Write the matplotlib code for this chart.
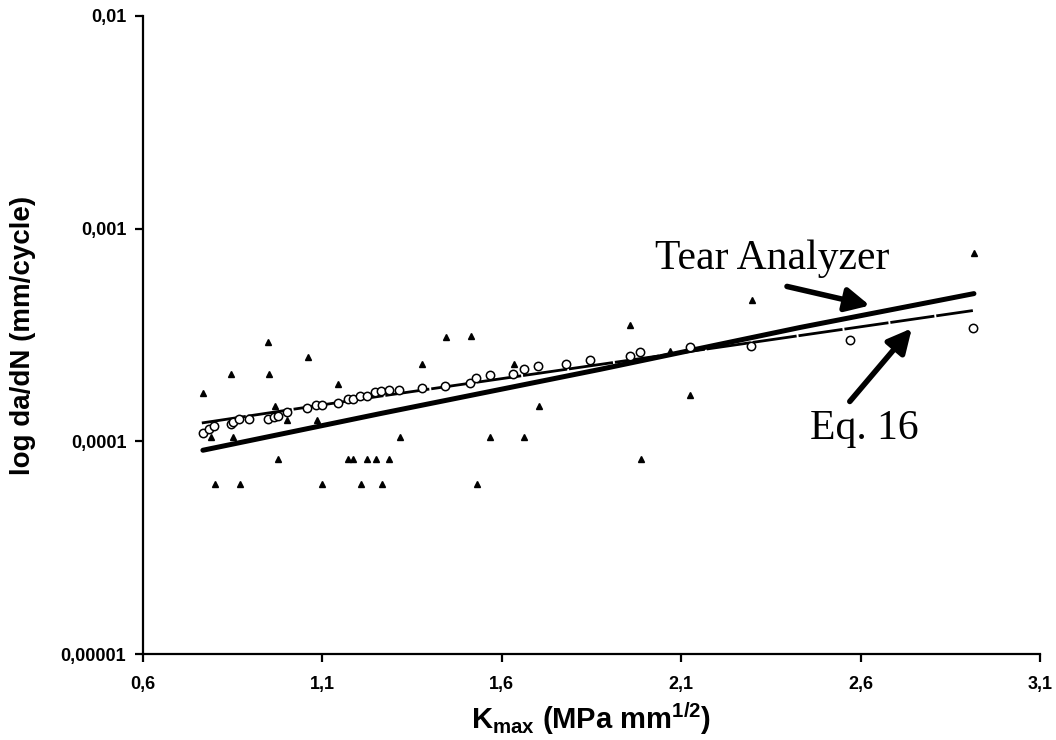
import matplotlib
matplotlib.use("Agg")
import matplotlib.pyplot as plt

plt.rcParams["mathtext.fontset"] = "custom"
plt.rcParams["mathtext.bf"] = "Liberation Sans:bold"
plt.rcParams["mathtext.rm"] = "Liberation Sans:bold"

# open circles (measured data)
circ_x = [0.767, 0.784, 0.798, 0.845, 0.851, 0.868, 0.895, 0.948, 0.965, 0.976,
          1.001, 1.057, 1.082, 1.099, 1.143, 1.171, 1.185, 1.205, 1.224, 1.247,
          1.263, 1.286, 1.313, 1.378, 1.442, 1.511, 1.528, 1.567, 1.631, 1.662,
          1.701, 1.779, 1.846, 1.957, 1.985, 2.125, 2.295, 2.570, 2.913]
circ_y = [1.09e-4, 1.14e-4, 1.18e-4, 1.20e-4, 1.23e-4, 1.27e-4, 1.28e-4, 1.27e-4, 1.30e-4, 1.32e-4,
          1.37e-4, 1.43e-4, 1.49e-4, 1.48e-4, 1.51e-4, 1.59e-4, 1.59e-4, 1.64e-4, 1.64e-4, 1.70e-4,
          1.72e-4, 1.74e-4, 1.75e-4, 1.79e-4, 1.83e-4, 1.89e-4, 1.98e-4, 2.04e-4, 2.08e-4, 2.18e-4,
          2.25e-4, 2.30e-4, 2.40e-4, 2.51e-4, 2.62e-4, 2.79e-4, 2.82e-4, 3.01e-4, 3.40e-4]

# filled triangles
tri_x = [0.767, 0.948, 0.845, 0.951, 1.060, 1.143, 0.968, 1.001, 1.085, 0.790,
         0.851, 1.316, 0.976, 1.171, 1.185, 1.224, 1.249, 1.286, 0.801, 0.870,
         1.099, 1.208, 1.266, 1.444, 1.514, 1.378, 1.634, 1.704, 1.567, 1.662,
         1.531, 1.957, 2.297, 2.125, 1.988, 2.069, 2.916]
tri_y = [1.68e-4, 2.92e-4, 2.08e-4, 2.08e-4, 2.50e-4, 1.87e-4, 1.46e-4, 1.26e-4, 1.26e-4, 1.05e-4,
         1.05e-4, 1.05e-4, 8.3e-5, 8.3e-5, 8.3e-5, 8.3e-5, 8.3e-5, 8.3e-5, 6.3e-5, 6.3e-5,
         6.3e-5, 6.3e-5, 6.3e-5, 3.11e-4, 3.13e-4, 2.30e-4, 2.30e-4, 1.46e-4, 1.05e-4, 1.05e-4,
         6.3e-5, 3.54e-4, 4.64e-4, 1.66e-4, 8.3e-5, 2.65e-4, 7.7e-4]

# fitted lines
tear_x = [0.767, 1.261, 1.874, 2.431, 2.916]
tear_y = [9.08e-5, 1.35e-4, 2.18e-4, 3.43e-4, 4.95e-4]
eq16_x = [0.764, 1.261, 2.913]
eq16_y = [1.22e-4, 1.63e-4, 4.12e-4]

x_ticks = [0.6, 1.1, 1.6, 2.1, 2.6, 3.1]
x_ticklabels = ["0,6", "1,1", "1,6", "2,1", "2,6", "3,1"]
y_ticks = [1e-5, 1e-4, 1e-3, 1e-2]
y_ticklabels = ["0,00001", "0,0001", "0,001", "0,01"]

fig = plt.figure(figsize=(10.56, 7.4), dpi=100)
ax = fig.add_axes([0.1354, 0.1162, 0.8494, 0.8622])

ax.plot(tear_x, tear_y, color="black", lw=3.6, solid_capstyle="round", zorder=3)
ax.plot(eq16_x, eq16_y, color="black", lw=2.0, linestyle=(0, (16, 0.7)), zorder=3)
ax.plot(tri_x, tri_y, linestyle="none", marker="^", ms=5, color="black", zorder=4)
ax.plot(circ_x, circ_y, linestyle="none", marker="o", ms=6, mfc="white", mec="black",
        mew=1.1, zorder=4)

ax.set_yscale("log")
ax.set_xlim(0.6, 3.1)
ax.set_ylim(1e-5, 1e-2)
ax.set_xticks(x_ticks)
ax.set_xticklabels(x_ticklabels)
ax.set_yticks(y_ticks)
ax.set_yticklabels(y_ticklabels)
ax.minorticks_off()

for side in ["top", "right"]:
    ax.spines[side].set_visible(False)
for side in ["left", "bottom"]:
    ax.spines[side].set_linewidth(1.6)
ax.tick_params(direction="out", length=6, width=1.6, labelsize=13, pad=6)
for lab in ax.get_xticklabels() + ax.get_yticklabels():
    lab.set_fontweight("bold")
    lab.set_fontfamily("Liberation Sans")
ax.tick_params(axis="x", pad=10)

ax.set_xlabel(r"K$_{\mathbf{max}}$ (MPa mm$^{\mathbf{1/2}}$)", fontsize=21, fontweight="bold",
              fontfamily="Liberation Sans", labelpad=5)
ax.set_ylabel("log da/dN (mm/cycle)", fontsize=20, fontweight="bold",
              fontfamily="Liberation Sans", labelpad=18)

# annotations
ax.text(2.027, 6.43e-4, "Tear Analyzer", fontsize=30, fontfamily="Liberation Serif",
        ha="left", va="baseline")
ax.text(2.459, 1.03e-4, "Eq. 16", fontsize=30, fontfamily="Liberation Serif",
        ha="left", va="baseline")
ax.annotate("", xy=(2.626, 4.35e-4), xytext=(2.395, 5.35e-4),
            arrowprops=dict(arrowstyle="-|>", lw=4, color="black", mutation_scale=36,
                            shrinkA=0, shrinkB=0))
ax.annotate("", xy=(2.743, 3.40e-4), xytext=(2.570, 1.54e-4),
            arrowprops=dict(arrowstyle="-|>", lw=4, color="black", mutation_scale=36,
                            shrinkA=0, shrinkB=0))

fig.savefig("out.png", dpi=100)
